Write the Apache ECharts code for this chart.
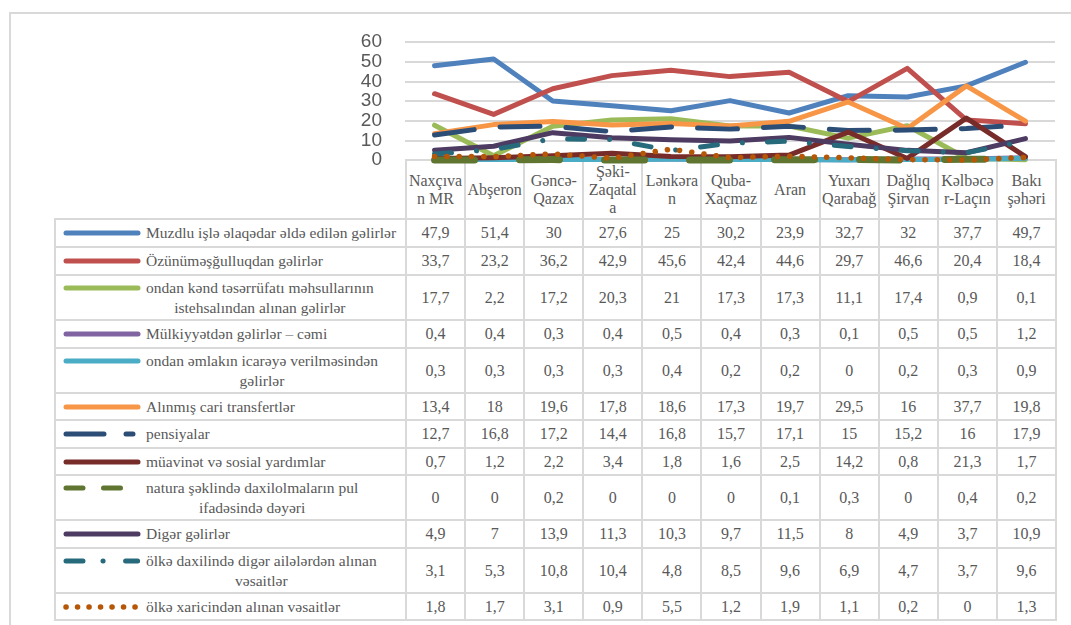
<!DOCTYPE html>
<html>
<head>
<meta charset="utf-8">
<script src="https://cdn.jsdelivr.net/npm/echarts@6/dist/echarts.min.js"></script>
<style>
  html, body { margin: 0; padding: 0; background: #fff; }
  #wrap { position: relative; width: 1071px; height: 625px; overflow: hidden; }
  #frame { position: absolute; left: 9px; top: 12px; width: 1100px; height: 700px;
           border-left: 2px solid #d9d9d9; border-top: 2px solid #d9d9d9; }
  #main { position: absolute; left: 0; top: 0; width: 1071px; height: 625px; z-index: 2; pointer-events: none; }
  #tbl { position: absolute; left: 54px; top: 159px; border-collapse: collapse; table-layout: fixed;
         font-size: 16px; color: #595959; z-index: 1; }
  #tbl, #tbl td, #tbl span { font-family: 'Liberation Serif', 'DejaVu Serif', serif; }
  #tbl td { border: 2px solid #d9d9d9; padding: 0; text-align: center; vertical-align: middle; overflow: hidden; }
  #tbl tr.head td { line-height: 18px; }
  #tbl td.blank { border: none; }
  #tbl td.key { text-align: left; padding-left: 7px; line-height: 20px; font-size: 15.5px; }
  .keyin { display: flex; align-items: flex-start; }
  .keyin svg { flex: none; margin-right: 5px; }
  .keyin span { display: inline-block; text-align: center; }
</style>
</head>
<body>
<div id="wrap">
  <div id="frame"></div>
  <table id="tbl"></table>
  <div id="main"></div>
</div>
<script>
// regions (table header text, with line breaks as in the picture)
var categories = ['Naxçıva\nn MR', 'Abşeron', 'Gəncə-\nQazax', 'Şəki-\nZaqatal\na', 'Lənkəra\nn',
                  'Quba-\nXaçmaz', 'Aran', 'Yuxarı\nQarabağ', 'Dağlıq\nŞirvan', 'Kəlbəcə\nr-Laçın', 'Bakı\nşəhəri'];

var seriesNames = [
  'Muzdlu işlə əlaqədar əldə edilən gəlirlər',
  'Özünüməşğulluqdan gəlirlər',
  'ondan kənd təsərrüfatı məhsullarının\nistehsalından alınan gəlirlər',
  'Mülkiyyətdən gəlirlər – cəmi',
  'ondan əmlakın icarəyə verilməsindən\ngəlirlər',
  'Alınmış cari transfertlər',
  'pensiyalar',
  'müavinət və sosial yardımlar',
  'natura şəklində daxilolmaların pul\nifadəsində dəyəri',
  'Digər gəlirlər',
  'ölkə daxilində digər ailələrdən alınan\nvəsaitlər',
  'ölkə xaricindən alınan vəsaitlər'
];

var muzdlu     = [47.9, 51.4, 30, 27.6, 25, 30.2, 23.9, 32.7, 32, 37.7, 49.7];
var ozunum     = [33.7, 23.2, 36.2, 42.9, 45.6, 42.4, 44.6, 29.7, 46.6, 20.4, 18.4];
var kend       = [17.7, 2.2, 17.2, 20.3, 21, 17.3, 17.3, 11.1, 17.4, 0.9, 0.1];
var mulkiyyet  = [0.4, 0.4, 0.3, 0.4, 0.5, 0.4, 0.3, 0.1, 0.5, 0.5, 1.2];
var emlak      = [0.3, 0.3, 0.3, 0.3, 0.4, 0.2, 0.2, 0, 0.2, 0.3, 0.9];
var transfert  = [13.4, 18, 19.6, 17.8, 18.6, 17.3, 19.7, 29.5, 16, 37.7, 19.8];
var pensiya    = [12.7, 16.8, 17.2, 14.4, 16.8, 15.7, 17.1, 15, 15.2, 16, 17.9];
var muavinet   = [0.7, 1.2, 2.2, 3.4, 1.8, 1.6, 2.5, 14.2, 0.8, 21.3, 1.7];
var natura     = [0, 0, 0.2, 0, 0, 0, 0.1, 0.3, 0, 0.4, 0.2];
var diger      = [4.9, 7, 13.9, 11.3, 10.3, 9.7, 11.5, 8, 4.9, 3.7, 10.9];
var daxili     = [3.1, 5.3, 10.8, 10.4, 4.8, 8.5, 9.6, 6.9, 4.7, 3.7, 9.6];
var xarici     = [1.8, 1.7, 3.1, 0.9, 5.5, 1.2, 1.9, 1.1, 0.2, 0, 1.3];

var allData = [muzdlu, ozunum, kend, mulkiyyet, emlak, transfert, pensiya, muavinet, natura, diger, daxili, xarici];

// line looks: colour, width, dash pattern for the chart and for the key sample
var styles = [
  {color: '#4f81bd', width: 5, type: 'solid'},
  {color: '#c0504d', width: 5, type: 'solid'},
  {color: '#9bbb59', width: 5, type: 'solid'},
  {color: '#8064a2', width: 5, type: 'solid'},
  {color: '#4bacc6', width: 5, type: 'solid'},
  {color: '#f79646', width: 5, type: 'solid'},
  {color: '#2c4d75', width: 5, type: [40, 26], key: '38 22 7 10'},
  {color: '#772c2a', width: 5, type: 'solid'},
  {color: '#5f7530', width: 7, type: [40, 45], key: '17 20.5'},
  {color: '#4d3b62', width: 5, type: 'solid'},
  {color: '#276a7c', width: 5, type: [17, 25, 0.1, 25], key: '17 20 0.1 22.5 12 10'},
  {color: '#b65708', width: 5.5, type: [0.1, 12.2], key: '0.1 11.4'}
];

var rowHeights = [28, 28, 45, 28, 45, 27, 28, 27, 45, 28, 45, 27];

// ---- table below the plot ----
var tbl = document.getElementById('tbl');
var html = '<colgroup><col style="width:351px">';
for (var c = 0; c < categories.length; c++) html += '<col style="width:59.1px">';
html += '</colgroup><tr class="head" style="height:59px"><td class="blank"></td>';
categories.forEach(function (cat) {
  html += '<td>' + cat.split('\n').join('<br>') + '</td>';
});
html += '</tr>';
seriesNames.forEach(function (name, i) {
  var st = styles[i];
  var dash = st.key ? ' stroke-dasharray="' + st.key + '"' : '';
  var sw = i === 11 ? 5.5 : 5;
  html += '<tr style="height:' + rowHeights[i] + 'px"><td class="key"><div class="keyin">' +
    '<svg width="78" height="20"><line x1="3" y1="10" x2="75" y2="10" stroke="' + st.color +
    '" stroke-width="' + sw + '" stroke-linecap="round"' + dash + '/></svg>' +
    '<span>' + name.split('\n').join('<br>') + '</span></div></td>';
  allData[i].forEach(function (v) {
    html += '<td>' + String(v).replace('.', ',') + '</td>';
  });
  html += '</tr>';
});
tbl.innerHTML = html;

// ---- line chart ----
var chart = echarts.init(document.getElementById('main'));
var option = {
  animation: false,
  grid: {left: 405, right: 16, top: 42, bottom: 465},
  xAxis: {
    type: 'category',
    data: categories,
    boundaryGap: true,
    axisLine: {show: false},
    axisTick: {show: false},
    axisLabel: {show: false}
  },
  yAxis: {
    type: 'value',
    min: 0, max: 60, interval: 10,
    axisLine: {show: false},
    axisTick: {show: false},
    axisLabel: {margin: 23, fontSize: 19, color: '#595959', fontFamily: 'Liberation Sans'},
    splitLine: {lineStyle: {color: '#d9d9d9', width: 2}}
  },
  series: seriesNames.map(function (name, i) {
    var st = styles[i];
    return {
      name: name,
      type: 'line',
      data: allData[i],
      showSymbol: false,
      symbol: 'none',
      clip: false,
      lineStyle: {color: st.color, width: st.width, type: st.type, cap: 'round', join: 'round'}
    };
  })
};
chart.setOption(option);
</script>
</body>
</html>
